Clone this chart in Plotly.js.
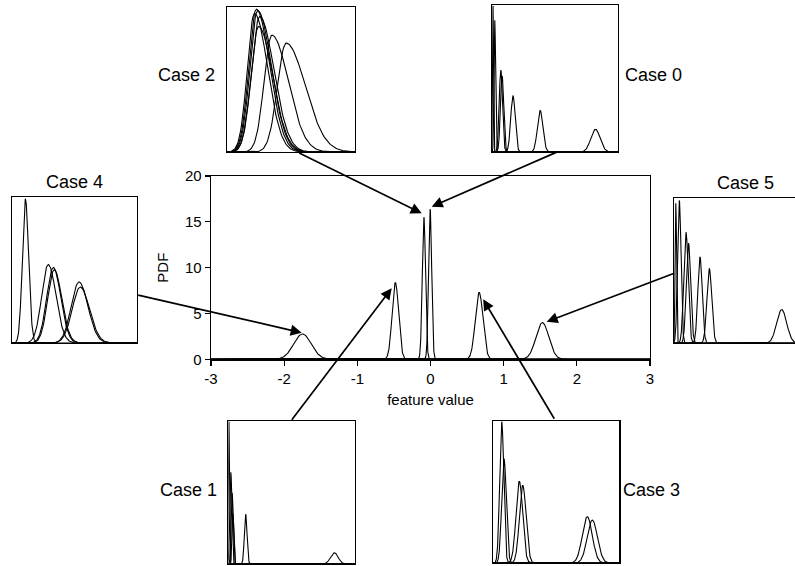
<!DOCTYPE html>
<html>
<head>
<meta charset="utf-8">
<script src="https://cdn.plot.ly/plotly-3.0.1.min.js"></script>
<style>html,body{margin:0;padding:0;background:#fff;}#chart{width:795px;height:566px;}</style>
</head>
<body>
<div id="chart"></div>
<script>
// ---------- main chart: Gaussian PDF components ----------
const mainCenter = [-1.75, -0.48, -0.09, -0.005, 0.665, 1.53];
const mainSigma  = [0.12, 0.044, 0.022, 0.021, 0.052, 0.088];
const mainPeak   = [2.76, 8.36, 15.5, 16.4, 7.3, 4.0];
const xTicks = [-3, -2, -1, 0, 1, 2, 3];
const xTickText = ['-3', '-2', '-1', '0', '1', '2', '3'];
const yTicks = [0, 5, 10, 15, 20];

// ---------- insets (normalised 0..1 coordinates inside each box) ----------
const case2Center = [0.229, 0.240, 0.247, 0.215, 0.255, 0.351, 0.462];
const case2SigL   = [0.058, 0.060, 0.060, 0.056, 0.062, 0.061, 0.068];
const case2SigR   = [0.105, 0.107, 0.110, 0.103, 0.112, 0.128, 0.150];
const case2Peak   = [0.99, 0.98, 0.87, 0.96, 0.94, 0.81, 0.755];

const case0Center = [0.008, 0.022, 0.070, 0.080, 0.166, 0.382, 0.821];
const case0SigL   = [0.004, 0.006, 0.013, 0.013, 0.0175, 0.022, 0.037];
const case0SigR   = [0.004, 0.006, 0.013, 0.013, 0.0175, 0.022, 0.037];
const case0Peak   = [1.0, 0.90, 0.56, 0.52, 0.386, 0.284, 0.155];

const case4Center = [0.107, 0.290, 0.330, 0.338, 0.536, 0.546];
const case4SigL   = [0.024, 0.052, 0.052, 0.052, 0.062, 0.064];
const case4SigR   = [0.026, 0.062, 0.060, 0.060, 0.072, 0.074];
const case4Peak   = [0.99, 0.54, 0.52, 0.505, 0.42, 0.385];

const case5Center = [0.015, 0.044, 0.099, 0.120, 0.215, 0.292, 0.890];
const case5SigL   = [0.006, 0.014, 0.018, 0.018, 0.018, 0.020, 0.041];
const case5SigR   = [0.006, 0.014, 0.018, 0.018, 0.018, 0.020, 0.041];
const case5Peak   = [0.97, 0.99, 0.77, 0.694, 0.598, 0.517, 0.234];

const case1Center = [0.005, 0.020, 0.030, 0.036, 0.137, 0.837];
const case1SigL   = [0.004, 0.008, 0.008, 0.007, 0.0105, 0.030];
const case1SigR   = [0.004, 0.008, 0.008, 0.007, 0.0105, 0.030];
const case1Peak   = [1.0, 0.644, 0.50, 0.35, 0.349, 0.079];

const case3Center = [0.071, 0.089, 0.210, 0.237, 0.747, 0.787];
const case3SigL   = [0.016, 0.018, 0.026, 0.026, 0.039, 0.040];
const case3SigR   = [0.016, 0.018, 0.026, 0.026, 0.039, 0.040];
const case3Peak   = [1.0, 0.738, 0.578, 0.55, 0.328, 0.304];

const caseLabels = ['Case 2', 'Case 0', 'Case 4', 'Case 5', 'Case 1', 'Case 3'];

// ---------- build traces ----------
const traces = [];
function addCurves(xa, ya, centers, sigL, sigR, peaks, lo, hi, lw) {
  for (let k = 0; k < centers.length; k++) {
    const c = centers[k], sl = sigL[k], sr = sigR[k], p = peaks[k];
    const xs = [lo], ys = [0];
    const a = c - 4.5 * sl, b = c + 4.5 * sr, n = 120;
    for (let i = 0; i <= n; i++) {
      const x = a + (b - a) * i / n;
      const s = x < c ? sl : sr;
      xs.push(x);
      ys.push(p * Math.exp(-0.5 * Math.pow((x - c) / s, 2)));
    }
    xs.push(hi); ys.push(0);
    traces.push({type: 'scatter', mode: 'lines', x: xs, y: ys, xaxis: xa, yaxis: ya,
      line: {color: '#000', width: lw}, hoverinfo: 'skip', showlegend: false});
  }
}
addCurves('x', 'y', mainCenter, mainSigma, mainSigma, mainPeak, -3, 3, 1.1);
addCurves('x2', 'y2', case2Center, case2SigL, case2SigR, case2Peak, 0, 1, 1.1);
addCurves('x3', 'y3', case0Center, case0SigL, case0SigR, case0Peak, 0, 1, 1.1);
addCurves('x4', 'y4', case4Center, case4SigL, case4SigR, case4Peak, 0, 1, 1.1);
addCurves('x5', 'y5', case5Center, case5SigL, case5SigR, case5Peak, 0, 1, 1.1);
addCurves('x6', 'y6', case1Center, case1SigL, case1SigR, case1Peak, 0, 1, 1.1);
addCurves('x7', 'y7', case3Center, case3SigL, case3SigR, case3Peak, 0, 1, 1.1);

const FONT = 'Liberation Sans, Arial, Helvetica, sans-serif';

function insetAxes(dx, dy, yanchor, xanchor, mirrorY) {
  return [
    {domain: dx, range: [0, 1], anchor: yanchor, showline: true, mirror: true, linecolor: '#000', linewidth: 1.2,
     showgrid: false, zeroline: false, showticklabels: false, ticks: ''},
    {domain: dy, range: [0, 1.005], anchor: xanchor, showline: true, mirror: mirrorY, linecolor: '#000', linewidth: 1.2,
     showgrid: false, zeroline: false, showticklabels: false, ticks: ''}
  ];
}
const a2 = insetAxes([0.2855, 0.4465], [0.7314, 0.9876], 'y2', 'x2', true);
const a3 = insetAxes([0.6189, 0.7774], [0.7314, 0.9912], 'y3', 'x3', true);
const a4 = insetAxes([0.0151, 0.1723], [0.394, 0.652], 'y4', 'x4', true);
const a5 = insetAxes([0.8478, 1.0], [0.3935, 0.6496], 'y5', 'x5', false);
const a6 = insetAxes([0.2872, 0.4465], [0.0035, 0.2567], 'y6', 'x6', true);
const a7 = insetAxes([0.6198, 0.779], [0.0053, 0.2562], 'y7', 'x7', true);

// arrows: tips in data coords of main axes, tails as pixel offsets
const arrowTipX = [-0.12, 0.016, -1.76, -0.53, 0.72, 1.588];
const arrowTipY = [15.93, 16.65, 2.9, 7.75, 6.55, 4.1];
const arrowAx = [-124, 126, -165, -101, 72, 129];
const arrowAy = [-61, -55, -38, 133, 121, -49];

const annotations = [];
for (let i = 0; i < arrowTipX.length; i++) {
  annotations.push({xref: 'x', yref: 'y', x: arrowTipX[i], y: arrowTipY[i], ax: arrowAx[i], ay: arrowAy[i],
    axref: 'pixel', ayref: 'pixel', text: '', showarrow: true, arrowhead: 2, arrowsize: 1.3, arrowwidth: 1.7,
    arrowcolor: '#000'});
}
const labelX = [186, 653, 74, 745, 188, 651];
const labelY = [75, 75, 182, 183, 490, 490];
for (let i = 0; i < caseLabels.length; i++) {
  annotations.push({xref: 'paper', yref: 'paper', x: labelX[i] / 795, y: (566 - labelY[i]) / 566,
    xanchor: 'center', yanchor: 'middle', text: caseLabels[i], showarrow: false,
    font: {family: FONT, size: 18, color: '#000'}});
}

const layout = {
  width: 795, height: 566,
  margin: {l: 0, r: 0, t: 0, b: 0},
  paper_bgcolor: '#fff', plot_bgcolor: 'rgba(0,0,0,0)',
  font: {family: FONT, color: '#000', size: 14},
  showlegend: false,
  xaxis: {domain: [0.2654, 0.8176], range: [-3, 3], anchor: 'y', tickmode: 'array', tickvals: xTicks,
    ticktext: xTickText,
    ticks: 'outside', ticklen: 5, tickwidth: 1.2, tickcolor: '#000', showline: true, mirror: true,
    linecolor: '#000', linewidth: 1.3, showgrid: false, zeroline: false,
    tickfont: {family: FONT, size: 15, color: '#000'},
    title: {text: 'feature value', font: {family: FONT, size: 15, color: '#000'}, standoff: 9}},
  yaxis: {domain: [0.3652, 0.689], range: [0, 20], anchor: 'x', tickmode: 'array', tickvals: yTicks,
    ticks: 'outside', ticklen: 5, tickwidth: 1.2, tickcolor: '#000', showline: true, mirror: true,
    linecolor: '#000', linewidth: 1.3, showgrid: false, zeroline: false,
    tickfont: {family: FONT, size: 15, color: '#000'},
    title: {text: 'PDF', font: {family: FONT, size: 15, color: '#000'}, standoff: 12}},
  xaxis2: a2[0], yaxis2: a2[1],
  xaxis3: a3[0], yaxis3: a3[1],
  xaxis4: a4[0], yaxis4: a4[1],
  xaxis5: a5[0], yaxis5: a5[1],
  xaxis6: a6[0], yaxis6: a6[1],
  xaxis7: a7[0], yaxis7: a7[1],
  annotations: annotations
};

Plotly.newPlot('chart', traces, layout, {displayModeBar: false, staticPlot: true});
</script>
</body>
</html>
